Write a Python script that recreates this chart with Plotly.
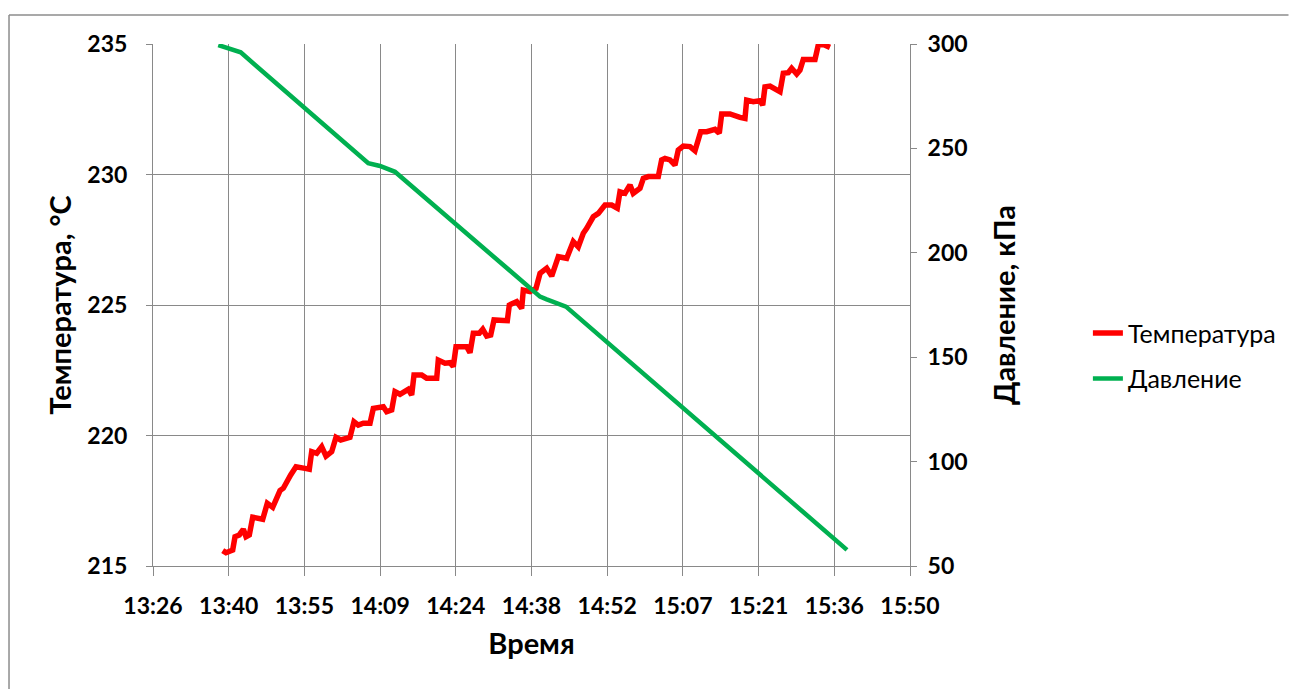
import pandas as pd
import plotly.graph_objects as go

# ---- data (time in minutes after 13:00) ----
temp_time_min = [39.66, 40.29, 41.56, 42.00, 42.82, 43.58, 44.09, 44.72, 45.37, 46.62,
                 47.27, 48.14, 49.17, 50.56, 51.19, 52.59, 53.60, 55.31, 56.13, 56.59,
                 57.54, 58.49, 59.31, 60.39, 61.21, 62.10, 63.87, 64.63, 65.45, 66.40,
                 67.68, 68.31, 70.21, 70.85, 71.81, 72.43, 73.38, 74.96, 75.61, 76.05,
                 77.51, 78.46, 80.37, 80.67, 81.94, 82.90, 83.52, 84.04, 86.07, 86.70,
                 87.33, 88.47, 89.12, 89.88, 90.64, 91.27, 92.41, 93.80, 94.18, 95.58,
                 96.53, 96.84, 98.11, 99.26, 100.02, 101.29, 102.24, 103.06, 103.50, 105.09,
                 106.35, 107.30, 108.25, 108.90, 110.15, 111.11, 112.38, 113.65, 114.72, 115.23,
                 116.18, 117.14, 117.76, 119.04, 119.67, 120.62, 122.52, 123.16, 123.79, 124.74,
                 125.69, 126.32, 127.27, 128.55, 129.50, 130.58, 131.73, 133.30, 134.12, 134.58,
                 136.16, 138.06, 139.01, 139.33, 140.59, 141.86, 142.38, 142.81, 143.77, 145.04,
                 145.67, 146.30, 147.25, 147.89, 148.85, 149.47, 150.10, 152.33, 152.95, 153.91,
                 155.18]
temperature = [215.59, 215.51, 215.61, 216.12, 216.19, 216.41, 216.12, 216.19, 216.87, 216.79,
               216.79, 217.40, 217.25, 217.89, 217.98, 218.49, 218.80, 218.74, 218.71, 219.38,
               219.32, 219.57, 219.21, 219.38, 219.93, 219.83, 219.93, 220.53, 220.40, 220.47,
               220.47, 221.04, 221.10, 220.91, 220.98, 221.68, 221.58, 221.77, 221.55, 222.32,
               222.32, 222.19, 222.19, 222.89, 222.77, 222.79, 222.64, 223.40, 223.40, 223.17,
               223.92, 223.92, 224.07, 223.81, 223.85, 224.43, 224.40, 224.40, 225.00, 225.13,
               224.87, 225.57, 225.51, 225.64, 226.21, 226.41, 226.11, 226.60, 226.85, 226.79,
               227.43, 227.23, 227.75, 227.94, 228.38, 228.51, 228.83, 228.83, 228.71, 229.34,
               229.28, 229.60, 229.28, 229.47, 229.85, 229.92, 229.92, 230.56, 230.62, 230.56,
               230.36, 230.94, 231.09, 231.07, 230.91, 231.64, 231.64, 231.73, 231.58, 232.32,
               232.32, 232.19, 232.15, 232.85, 232.79, 232.83, 232.66, 233.36, 233.39, 233.24,
               233.17, 233.88, 233.90, 234.07, 233.85, 234.00, 234.41, 234.41, 234.96, 234.98,
               234.87]

press_time_min = [38.82, 41.05, 43.08, 67.35, 69.58, 72.43, 100.02, 101.29, 103.50, 104.96, 158.41]
pressure = [299.5, 297.9, 296.0, 242.9, 241.6, 238.8, 179.0, 177.7, 175.5, 174.2, 57.7]

x_tick_labels = ["13:26", "13:40", "13:55", "14:09", "14:24", "14:38",
                 "14:52", "15:07", "15:21", "15:36", "15:50"]

base = pd.Timestamp("2024-01-01 13:00:00")
t_temp = [base + pd.Timedelta(minutes=m) for m in temp_time_min]
t_press = [base + pd.Timedelta(minutes=m) for m in press_time_min]
x_start = pd.Timestamp("2024-01-01 13:26:24")
x_end = pd.Timestamp("2024-01-01 15:50:24")
tickvals = [x_start + pd.Timedelta(minutes=14.4 * i) for i in range(len(x_tick_labels))]

FONT = "Lato"
GRID = "#898989"

fig = go.Figure()
fig.add_trace(go.Scatter(x=t_temp, y=temperature, mode="lines", name="Температура",
                         line=dict(color="#FF0000", width=5.5), legendgroup="t"))
fig.add_trace(go.Scatter(x=t_press, y=pressure, mode="lines", name="Давление",
                         line=dict(color="#00B050", width=4.5), yaxis="y2", legendgroup="p"))

fig.update_layout(
    width=1293, height=689,
    margin=dict(l=153, r=383, t=44, b=123),
    paper_bgcolor="white", plot_bgcolor="white",
    font=dict(family=FONT, color="black"),
    xaxis=dict(
        range=[x_start, x_end], tickvals=tickvals, ticktext=x_tick_labels,
        showgrid=True, gridcolor=GRID, gridwidth=1,
        showline=True, linecolor=GRID, linewidth=1, mirror=False,
        ticks="outside", ticklen=9, tickcolor=GRID, ticklabelstandoff=10,
        tickfont=dict(family=FONT, size=23, weight="bold"),
        title=dict(text="Время", font=dict(family=FONT, size=29, weight="bold"), standoff=16),
        zeroline=False,
    ),
    yaxis=dict(
        range=[215, 235], dtick=5, tick0=215,
        showgrid=True, gridcolor=GRID, gridwidth=1,
        showline=True, linecolor=GRID, linewidth=1,
        ticks="outside", ticklen=6, tickcolor=GRID, ticklabelstandoff=14,
        tickfont=dict(family=FONT, size=23, weight="bold"),
        title=dict(text="Температура, °C", font=dict(family=FONT, size=29, weight="bold"), standoff=7),
        zeroline=False,
    ),
    yaxis2=dict(
        range=[50, 300], dtick=50, tick0=50, overlaying="y", side="right",
        showgrid=False, showline=True, linecolor=GRID, linewidth=1,
        ticks="outside", ticklen=6, tickcolor=GRID, ticklabelstandoff=6,
        tickfont=dict(family=FONT, size=23, weight="bold"),
        title=dict(text="Давление, кПа", font=dict(family=FONT, size=29, weight="bold"), standoff=28),
        zeroline=False,
    ),
    legend=dict(x=1.235, y=0.403, xanchor="left", yanchor="middle",
                font=dict(family=FONT, size=25), traceorder="grouped",
                tracegroupgap=10, bgcolor="rgba(0,0,0,0)"),
    shapes=[
        dict(type="line", xref="paper", yref="paper", x0=-0.1902, x1=1.5, y0=1.0556, y1=1.0556,
             line=dict(color="#8c8c8c", width=1.5)),
        dict(type="line", xref="paper", yref="paper", x0=-0.1902, x1=-0.1902, y0=1.0556, y1=-0.3,
             line=dict(color="#8c8c8c", width=1.5)),
    ],
)

fig.write_html("out.html")
